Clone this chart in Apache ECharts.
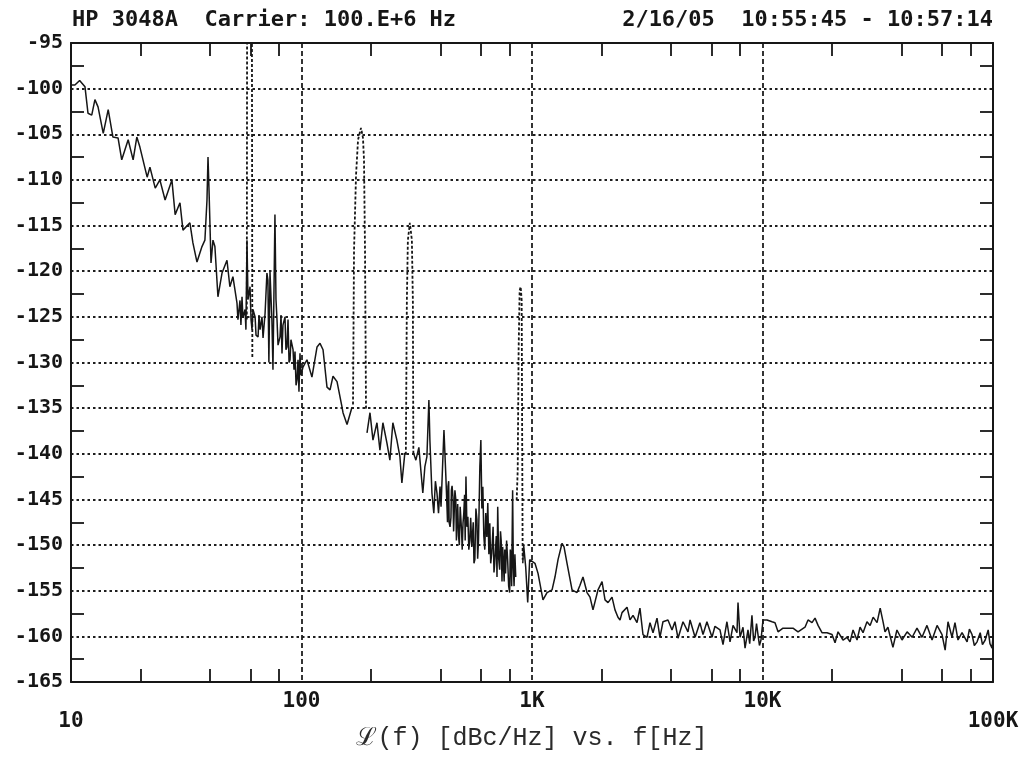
<!DOCTYPE html>
<html>
<head>
<meta charset="utf-8">
<title>HP 3048A phase noise</title>
<script src="https://cdn.jsdelivr.net/npm/echarts@6/dist/echarts.min.js"></script>
<style>
  html, body { margin: 0; padding: 0; background: #fff; }
  #chart { width: 1020px; height: 761px; }
</style>
</head>
<body>
<div id="chart"></div>
<script>
// texts
var titleLeft  = 'HP 3048A  Carrier: 100.E+6 Hz';
var titleRight = '2/16/05  10:55:45 - 10:57:14';
var axisTitle  = '\u2112(f) [dBc/Hz] vs. f[Hz]';

// axis ticks
var decadeTicks  = [10, 100, 1000, 10000, 100000];
var decadeLabels = ['10', '100', '1K', '10K', '100K'];
var minorFreqTicks = [20, 40, 60, 80, 200, 400, 600, 800, 2000, 4000, 6000, 8000, 20000, 40000, 60000, 80000];
var minorLevelTicks = [-162.5, -157.5, -152.5, -147.5, -142.5, -137.5, -132.5, -127.5, -122.5, -117.5, -112.5, -107.5, -102.5, -97.5];

// measured trace [Hz, dBc/Hz], split where the spurs are drawn dashed
var noiseA = [
  [10, -99.6], [10.1, -99.8], [10.4, -99.6], [10.9, -99.1], [11.5, -99.8], [11.85, -102.7], [12.3, -102.9],
  [12.7, -101.2], [13.1, -102.0], [13.8, -104.9], [14.5, -102.3], [15.2, -105.3], [16.0, -105.4], [16.6, -107.8],
  [17.7, -105.6], [18.6, -107.8], [19.3, -105.3], [19.9, -106.4], [21.4, -109.7], [22.0, -108.6], [23.2, -110.9],
  [24.3, -110.0], [25.6, -112.2], [27.4, -110.0], [28.3, -113.8], [29.7, -112.5], [30.6, -115.5], [32.8, -114.7],
  [33.8, -116.9], [35.2, -119.0], [37.0, -117.3], [38.1, -116.6], [38.9, -112.2], [39.3, -107.5], [39.7, -111.1],
  [40.5, -119.1], [41.3, -116.6], [42.1, -117.3], [43.4, -122.8], [45.2, -120.2], [47.5, -118.8], [48.9, -121.7],
  [50.4, -120.6], [52.5, -123.5], [53.0, -125.3], [54.1, -123.2], [54.6, -125.9], [55.2, -122.8], [55.7, -125.1],
  [56.9, -124.2], [57.4, -126.4], [58.0, -116.6], [58.6, -123.1], [59.8, -121.7], [60.4, -125.3], [61.0, -126.4],
  [61.6, -124.2], [62.9, -125.0], [63.5, -127.0], [64.8, -127.2], [65.4, -124.8], [66.1, -126.4], [67.4, -125.0],
  [68.1, -127.3], [69.5, -124.6], [70.8, -120.2], [71.5, -121.0], [72.2, -130.0], [73.0, -120.1], [74.4, -125.3],
  [75.2, -130.8], [76.7, -113.8], [77.5, -123.1], [78.3, -125.3], [79.1, -128.1], [80.7, -127.2], [81.5, -124.8],
  [82.3, -129.0], [83.1, -125.9], [84.8, -125.0], [85.6, -128.6], [86.5, -128.3], [87.4, -125.3], [88.3, -130.0],
  [89.2, -129.7], [90.0, -127.5], [91.9, -128.6], [92.8, -130.8], [93.7, -128.8], [94.7, -132.5], [95.6, -131.9],
  [96.6, -129.7], [97.5, -133.2], [98.5, -129.0], [99.5, -131.4], [101.5, -130.5], [105.6, -129.7], [111, -131.6],
  [116.8, -128.3], [120.3, -127.9], [124, -128.6], [129, -132.7], [133, -133.0], [137, -131.5], [142.6, -132.1],
  [149.9, -134.9], [151.4, -135.5], [157.6, -136.8], [165.6, -134.9]
];
var noiseB = [
  [192.4, -137.7], [198.2, -135.5], [204.2, -138.5], [212.5, -136.6], [218.9, -139.6], [225.5, -136.6],
  [234.7, -138.8], [241.8, -140.7], [249.1, -136.6], [259.3, -138.5], [267.2, -140.3], [272.6, -143.2], [280.8, -139.9]
];
var noiseC = [
  [306, -139.9], [313.5, -140.7], [323, -139.3], [336, -144.3], [343, -141.4], [350, -140.3], [357, -134.1],
  [360.6, -138.5], [368, -144.3], [375, -146.5], [381, -143.0], [387, -144.3], [393, -146.5], [399, -143.6],
  [403, -145.8], [415, -137.4], [423, -142.5], [428, -146.0], [430, -147.5], [432, -143.6], [435, -143.0],
  [437, -147.5], [441, -148.0], [445, -147.0], [447, -144.0], [450, -143.5], [454, -144.7], [457, -148.5],
  [460, -148.5], [463, -144.0], [467, -145.0], [470, -149.5], [473, -147.2], [476, -145.5], [480, -149.0],
  [484, -150.0], [488, -145.8], [491, -146.0], [495, -148.5], [498, -150.5], [502, -147.6], [506, -146.5],
  [510, -144.5], [513, -149.5], [517, -142.5], [522, -148.0], [527, -146.9], [532, -150.5], [537, -149.5],
  [542, -147.0], [548, -150.2], [556, -147.5], [560, -152.0], [565, -151.6], [571, -146.0], [577, -147.2],
  [581, -151.5], [586, -149.5], [594, -141.4], [600, -138.5], [606, -146.0], [612, -143.6], [618, -149.0],
  [624, -150.5], [630, -146.5], [637, -149.1], [643, -145.4], [650, -151.0], [656, -147.6], [662, -152.0],
  [669, -150.9], [678, -148.0], [684, -153.0], [689, -152.0], [700, -149.0], [705, -153.5], [710, -145.8],
  [717, -151.5], [724, -152.7], [730, -148.5], [735, -149.5], [741, -154.0], [746, -150.2], [752, -152.0],
  [757, -154.0], [762, -150.5], [768, -153.1], [776, -149.5], [784, -151.6], [792, -154.5], [800, -155.2],
  [805, -150.5], [810, -151.0], [816, -154.5], [824, -144.0], [830, -152.5], [836, -154.5], [843, -151.0],
  [850, -153.5]
];
var noiseD = [
  [912, -152.0], [920, -150.0], [939, -152.4], [958, -156.3], [977, -151.6], [1030, -152.0], [1062, -153.1],
  [1116, -156.0], [1162, -155.2], [1222, -154.9], [1258, -153.5], [1297, -151.6], [1350, -149.8], [1377, -150.2],
  [1419, -152.0], [1492, -154.9], [1568, -155.2], [1615, -154.4], [1664, -153.5], [1733, -155.2], [1785, -155.7],
  [1839, -157.1], [1934, -154.9], [2013, -154.0], [2074, -156.0], [2137, -156.3], [2224, -155.7], [2291, -157.1],
  [2360, -157.9], [2409, -158.2], [2458, -157.4], [2584, -156.8], [2662, -158.2], [2743, -157.7], [2855, -158.5],
  [2940, -156.9], [3030, -159.8], [3155, -160.1], [3250, -158.5], [3350, -159.6], [3486, -158.0], [3590, -160.1],
  [3700, -158.4], [3890, -158.2], [4050, -159.3], [4170, -158.4], [4300, -160.2], [4520, -158.4], [4750, -159.5],
  [4850, -158.2], [5100, -160.1], [5350, -158.5], [5520, -159.8], [5740, -158.4], [6040, -160.1], [6220, -158.9],
  [6540, -159.3], [6740, -160.9], [7010, -158.4], [7230, -160.6], [7450, -158.8], [7750, -159.6], [7830, -156.3],
  [7990, -160.1], [8230, -159.0], [8400, -161.3], [8650, -159.3], [8800, -160.8], [9000, -157.7], [9150, -160.5],
  [9280, -160.1], [9420, -158.6], [9560, -158.5], [9700, -161.0], [9850, -160.4], [10050, -158.2], [10460, -158.2],
  [11000, -158.4], [11330, -158.5], [11680, -159.5], [12270, -159.1], [13560, -159.1], [14260, -159.5],
  [15290, -159.0], [15760, -158.2], [16400, -158.5], [16900, -158.0], [17420, -158.8], [18120, -159.6],
  [19050, -159.6], [20030, -159.8], [20640, -160.7], [21270, -159.5], [22350, -160.4], [23260, -160.1],
  [23970, -160.6], [24710, -159.3], [25710, -160.4], [26500, -159.0], [27300, -159.6], [28400, -158.4],
  [29300, -158.8], [30200, -157.9], [31400, -158.5], [32400, -156.9], [33400, -158.5], [34000, -159.5],
  [35000, -159.0], [36800, -161.2], [38300, -159.3], [40300, -160.4], [42400, -159.5], [44600, -160.1],
  [46800, -159.1], [49200, -160.1], [51700, -158.8], [54400, -160.4], [57200, -158.8], [60100, -159.8],
  [62000, -161.5], [63800, -158.4], [66400, -160.1], [68400, -158.5], [70500, -160.4], [73400, -159.6],
  [77200, -160.6], [79000, -159.2], [81100, -159.8], [83000, -161.0], [85300, -160.6], [88000, -159.6],
  [90000, -160.9], [92500, -160.4], [95300, -159.3], [97000, -160.8], [99100, -161.3], [100000, -160.0]
];

// discrete spurs (drawn dashed)
var spur60  = [[57.9, -125.3], [58.1, -88], [60.9, -88], [61.2, -129.5]];
var spur180 = [[167.3, -134.6], [169, -117.7], [172.4, -109.5], [175.9, -105.6], [181.2, -104.3],
               [184.8, -105.4], [186.7, -107.8], [188.6, -117.7], [190.5, -135.2]];
var spur300 = [[283.6, -140.1], [286.5, -123.2], [289.4, -116.6], [295.2, -114.7], [301.2, -116.6],
               [304.2, -123.2], [305.7, -140.1]];
var spur900 = [[858, -145.1], [867, -141.8], [875, -128.6], [884, -122.1], [893, -121.7],
               [902, -123.2], [906, -136.3], [911, -151.6]];

var ink = '#161616';
var monoBold = { fontFamily: 'DejaVu Sans Mono', fontWeight: 'bold', fontSize: 20, color: ink };
var monoTitle = Object.assign({}, monoBold, { fontSize: 22 });

function decadeLabel(v) {
  for (var i = 0; i < decadeTicks.length; i++) {
    if (Math.abs(Math.log10(v) - Math.log10(decadeTicks[i])) < 0.01) {
      return (i === 0 || i === decadeTicks.length - 1) ? '\n' + decadeLabels[i] : decadeLabels[i];
    }
  }
  return '';
}

var freqAxis = { type: 'log', logBase: 10, min: 10, max: 100000, gridIndex: 0 };
var levelAxis = { type: 'value', min: -165, max: -95, interval: 5, gridIndex: 0 };
var frameLine = { show: true, lineStyle: { color: ink, width: 2 } };
var innerTick = function (vals) {
  return { show: true, inside: true, length: 13, customValues: vals, lineStyle: { color: ink, width: 1.8 } };
};

function traceSeries(data) {
  return { type: 'line', data: data, xAxisIndex: 0, yAxisIndex: 0, symbol: 'none',
           lineStyle: { color: ink, width: 1.5 }, animation: false, z: 5 };
}
function spurSeries(data) {
  return { type: 'line', data: data, xAxisIndex: 0, yAxisIndex: 0, symbol: 'none',
           lineStyle: { color: ink, width: 1.8, type: [3, 2] }, animation: false, z: 4 };
}

var chart = echarts.init(document.getElementById('chart'));
chart.setOption({
  backgroundColor: '#fff',
  animation: false,
  title: [
    { text: titleLeft, left: 72, top: 9, padding: 0, textStyle: monoTitle },
    { text: titleRight, right: 27, top: 9, padding: 0, textStyle: monoTitle }
  ],
  grid: { left: 71, right: 27, top: 43, bottom: 79, containLabel: false, outerBoundsMode: 'none' },
  xAxis: [
    Object.assign({}, freqAxis, {
      position: 'bottom',
      axisLine: frameLine,
      axisTick: innerTick(minorFreqTicks),
      axisLabel: Object.assign({ customValues: decadeTicks, formatter: decadeLabel, margin: 10, lineHeight: 20 },
                               monoBold, { fontSize: 21 }),
      splitLine: { show: false },
      name: axisTitle, nameLocation: 'middle', nameGap: 44, nameMoveOverlap: false,
      nameTextStyle: { fontFamily: 'Liberation Mono', fontSize: 25, color: '#2a2a2a' }
    }),
    Object.assign({}, freqAxis, {
      position: 'top',
      axisLine: frameLine,
      axisTick: innerTick(minorFreqTicks),
      axisLabel: { show: false },
      splitLine: { show: false }
    }),
    Object.assign({}, freqAxis, {
      position: 'bottom',
      axisLine: { show: false }, axisTick: { show: false }, axisLabel: { show: false },
      splitLine: { show: true, lineStyle: { color: '#1e1e1e', width: 1.8, type: [5, 3] } }
    })
  ],
  yAxis: [
    Object.assign({}, levelAxis, {
      position: 'left',
      axisLine: frameLine,
      axisTick: innerTick(minorLevelTicks),
      axisLabel: Object.assign({ margin: 8 }, monoBold),
      splitLine: { show: false }
    }),
    Object.assign({}, levelAxis, {
      position: 'right',
      axisLine: frameLine,
      axisTick: innerTick(minorLevelTicks),
      axisLabel: { show: false },
      splitLine: { show: false }
    }),
    Object.assign({}, levelAxis, {
      position: 'left',
      axisLine: { show: false }, axisTick: { show: false }, axisLabel: { show: false },
      splitLine: { show: true, lineStyle: { color: '#1e1e1e', width: 1.8, type: [2.5, 3] } }
    })
  ],
  series: [
    traceSeries(noiseA), traceSeries(noiseB), traceSeries(noiseC), traceSeries(noiseD),
    spurSeries(spur60), spurSeries(spur180), spurSeries(spur300), spurSeries(spur900)
  ]
});
</script>
</body>
</html>
